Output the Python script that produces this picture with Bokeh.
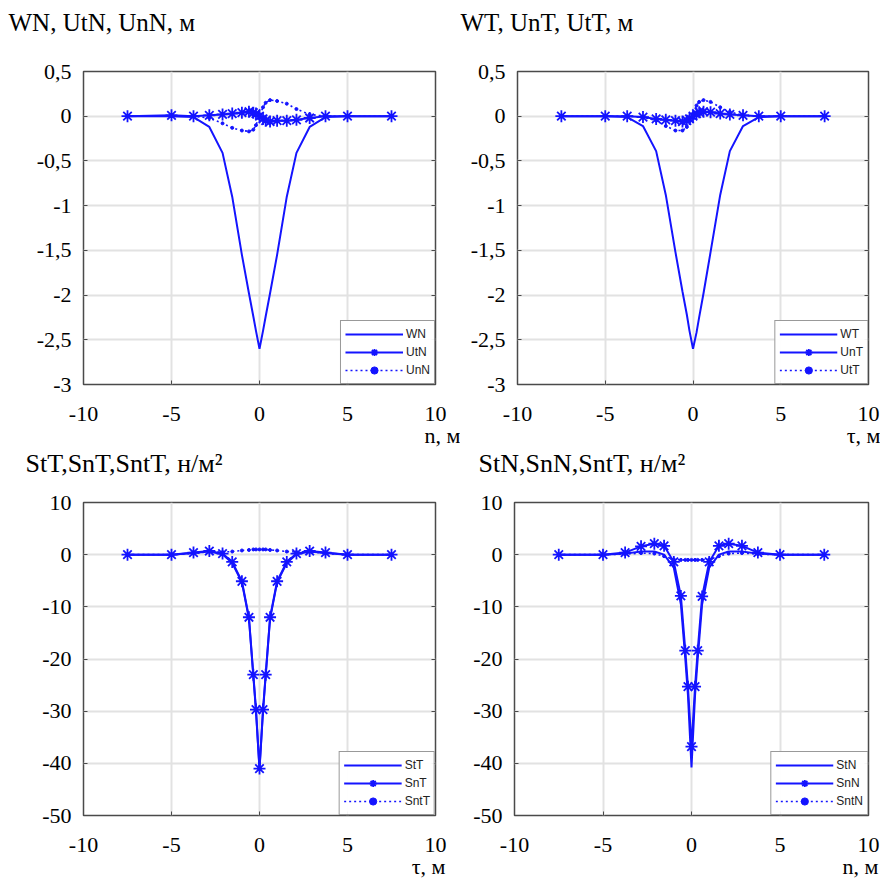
from bokeh.plotting import figure
from bokeh.models import (Range1d, FixedTicker, CustomJSTickFormatter, LinearAxis,
                          Title, Legend, LegendItem)
from bokeh.layouts import row, column
from bokeh.embed import file_html
from bokeh.resources import INLINE

# ---------------- data ----------------
X_GRID = [-7.5, -5.0, -3.75, -2.85, -2.1, -1.55, -1.0, -0.6, -0.35, -0.2, 0.0,
          0.2, 0.35, 0.6, 1.0, 1.55, 2.1, 2.85, 3.75, 5.0, 7.5]

# panel 1 (n)
WN  = [0, 0, -0.01, -0.12, -0.41, -0.9, -1.55, -1.98, -2.24, -2.4, -2.6,
       -2.4, -2.24, -1.98, -1.55, -0.9, -0.41, -0.12, -0.01, 0, 0]
UtN = [0, 0.01, 0.0, 0.01, 0.02, 0.03, 0.04, 0.05, 0.04, 0.03, 0.0,
       -0.03, -0.05, -0.06, -0.05, -0.05, -0.04, -0.02, 0.0, 0.0, 0]
UnN = [0, 0, 0, -0.02, -0.08, -0.13, -0.16, -0.17, -0.15, -0.1, 0.0,
       0.1, 0.15, 0.18, 0.17, 0.14, 0.08, 0.02, 0, 0, 0]

# panel 2 (tau)
WT  = [0, 0, -0.01, -0.11, -0.39, -0.88, -1.52, -1.96, -2.22, -2.4, -2.6,
       -2.42, -2.25, -1.98, -1.52, -0.88, -0.39, -0.11, -0.01, 0, 0]
UnT = [0, 0, 0, -0.01, -0.03, -0.04, -0.05, -0.06, -0.05, -0.03, 0.0,
       0.03, 0.045, 0.05, 0.045, 0.03, 0.02, 0.01, 0, 0, 0]
UtT = [0, 0, 0, -0.01, -0.05, -0.11, -0.16, -0.16, -0.12, -0.06, 0.03,
       0.12, 0.16, 0.18, 0.16, 0.1, 0.05, 0.01, 0, 0, 0]

# panel 3 (tau)
StT  = [0, 0, 0.3, 0.6, 0.1, -1.6, -5.3, -12.3, -23.3, -30.0, -41.2,
        -30.0, -23.3, -12.3, -5.3, -1.6, 0.1, 0.6, 0.3, 0, 0]
SnT  = [0, 0, 0.4, 0.7, 0.2, -1.4, -5.1, -12.0, -23.0, -29.7, -41.0,
        -29.7, -23.0, -12.0, -5.1, -1.4, 0.2, 0.7, 0.4, 0, 0]
SntT = [0, 0, 0.2, 0.6, 0.5, 0.6, 0.8, 0.9, 1.0, 1.0, 1.0,
        1.0, 1.0, 0.9, 0.8, 0.6, 0.5, 0.6, 0.2, 0, 0]

# panel 4 (n)
StN  = [0, 0, 0.2, 0.6, 0.6, 0.0, -2.5, -9.5, -20.0, -27.0, -40.8,
        -27.0, -20.0, -9.5, -2.5, 0.0, 0.6, 0.6, 0.2, 0, 0]
SnN  = [0, 0, 0.4, 1.6, 2.1, 1.7, -1.4, -7.9, -18.4, -25.3, -36.8,
        -25.3, -18.4, -8.0, -1.4, 1.7, 2.1, 1.7, 0.4, 0, 0]
SntN = [0, 0, 0.1, 0.3, 0.2, -0.3, -0.9, -1.0, -1.0, -1.0, -1.0,
        -1.0, -1.0, -1.0, -0.9, -0.3, 0.2, 0.3, 0.1, 0, 0]

X_TICKS = [-10, -5, 0, 5, 10]
Y_TICKS_TOP = [0.5, 0, -0.5, -1, -1.5, -2, -2.5, -3]
Y_TICKS_BOT = [10, 0, -10, -20, -30, -40, -50]

TITLES = ["WN, UtN, UnN, м", "WT, UnT, UtT, м",
          "StT,SnT,SntT, н/м²", "StN,SnN,SntT, н/м²"]
XLABELS = ["n, м", "τ, м", "τ, м", "n, м"]

# ---------------- style ----------------
BLUE = "#1414ff"
SERIF = "Liberation Serif"
TICK_FS = "22px"

fmt_js = "return tick.toString().replace('.', ',');"


def make_panel(series, names, yr, yticks, title, xlabel, geom, lab):
    fw, fh, bl, br, bt, bb, xstand = geom
    p = figure(frame_width=fw, frame_height=fh, min_border_left=bl, min_border_right=br,
               min_border_top=bt, min_border_bottom=bb,
               x_range=Range1d(-10, 10), y_range=Range1d(*yr),
               output_backend="svg", toolbar_location=None)
    p.outline_line_color = "#4a4a4a"
    p.outline_line_width = 1.5
    for ax, ticks in ((p.xaxis[0], X_TICKS), (p.yaxis[0], yticks)):
        ax.ticker = FixedTicker(ticks=ticks)
        ax.formatter = CustomJSTickFormatter(code=fmt_js)
        ax.axis_line_color = None
        ax.major_tick_in = 4
        ax.major_tick_out = 0
        ax.major_tick_line_color = "#4a4a4a"
        ax.minor_tick_line_color = None
        ax.major_label_text_font = SERIF
        ax.major_label_text_font_size = TICK_FS
        ax.major_label_text_color = "black"
    p.xaxis[0].major_label_standoff = xstand
    p.yaxis[0].major_label_standoff = 12
    rax = LinearAxis(ticker=FixedTicker(ticks=yticks),
                     formatter=CustomJSTickFormatter(code="return '';"),
                     axis_line_color=None, major_tick_in=4, major_tick_out=0,
                     major_tick_line_color="#4a4a4a", minor_tick_line_color=None,
                     major_label_standoff=0, major_label_text_font_size="1px")
    p.add_layout(rax, "right")
    p.xgrid.ticker = FixedTicker(ticks=X_TICKS)
    p.ygrid.ticker = FixedTicker(ticks=yticks)
    p.grid.grid_line_color = "#e2e2e2"
    p.grid.grid_line_width = 2

    solid, mark, dot = series
    r1 = p.line(X_GRID, solid, line_color=BLUE, line_width=2)
    r2 = p.line(X_GRID, mark, line_color=BLUE, line_width=2)
    r2m = p.scatter(X_GRID, mark, marker="asterisk", size=12, line_color=BLUE, line_width=1.8)
    r3 = p.line(X_GRID, dot, line_color=BLUE, line_width=1.6, line_dash="2 3")
    r3m = p.scatter(X_GRID, dot, marker="circle", size=3, fill_color=BLUE, line_color=BLUE)

    legend = Legend(items=[LegendItem(label=names[0], renderers=[r1]),
                           LegendItem(label=names[1], renderers=[r2, r2m]),
                           LegendItem(label=names[2], renderers=[r3, r3m])],
                    location="bottom_right", margin=0, padding=4, spacing=0,
                    label_text_font="Liberation Sans", label_text_font_size="12px",
                    label_text_color="#222222", glyph_width=58, glyph_height=18,
                    label_height=18, label_standoff=3,
                    border_line_color="#333333", border_line_width=1.5)
    p.add_layout(legend)

    t_fs, t_off, gap, x_off, x_sto = lab
    # spacer between frame and title (first in "above" = closest to the frame)
    p.add_layout(Title(text=" ", standoff=gap, text_font_size="1px"), "above")
    p.add_layout(Title(text=title, align="left", offset=t_off, standoff=0,
                       vertical_align="top",
                       text_font=SERIF, text_font_size=t_fs, text_font_style="normal",
                       text_color="black"), "above")
    p.add_layout(Title(text=xlabel, align="right", offset=x_off, standoff=x_sto,
                       vertical_align="top",
                       text_font=SERIF, text_font_size=TICK_FS, text_font_style="normal",
                       text_color="black"), "below")
    return p


p1 = make_panel((WN, UtN, UnN), ["WN", "UtN", "UnN"], (-3, 0.5), Y_TICKS_TOP,
                TITLES[0], XLABELS[0], (352, 313, 83, 25, 71, 56, 22),
                ("25px", -75, 31, -25, -2))
p2 = make_panel((WT, UnT, UtT), ["WT", "UnT", "UtT"], (-3, 0.5), Y_TICKS_TOP,
                TITLES[1], XLABELS[1], (351, 313, 57, 12, 71, 56, 22),
                ("25px", -57, 31, -12, -2))
p3 = make_panel((StT, SnT, SntT), ["StT", "SnT", "SntT"], (-50, 10), Y_TICKS_BOT,
                TITLES[2], XLABELS[2], (352, 313, 83, 25, 50, 66, 22),
                ("26px", -58, 20, -10, -2))
p4 = make_panel((StN, SnN, SntN), ["StN", "SnN", "SntN"], (-50, 10), Y_TICKS_BOT,
                TITLES[3], XLABELS[3], (354, 313, 54, 12, 50, 66, 22),
                ("26px", -36, 20, -10, -2))

layout = column(row(p1, p2, spacing=0), row(p3, p4, spacing=0), spacing=0)
open("out.html", "w").write(file_html(layout, INLINE))
